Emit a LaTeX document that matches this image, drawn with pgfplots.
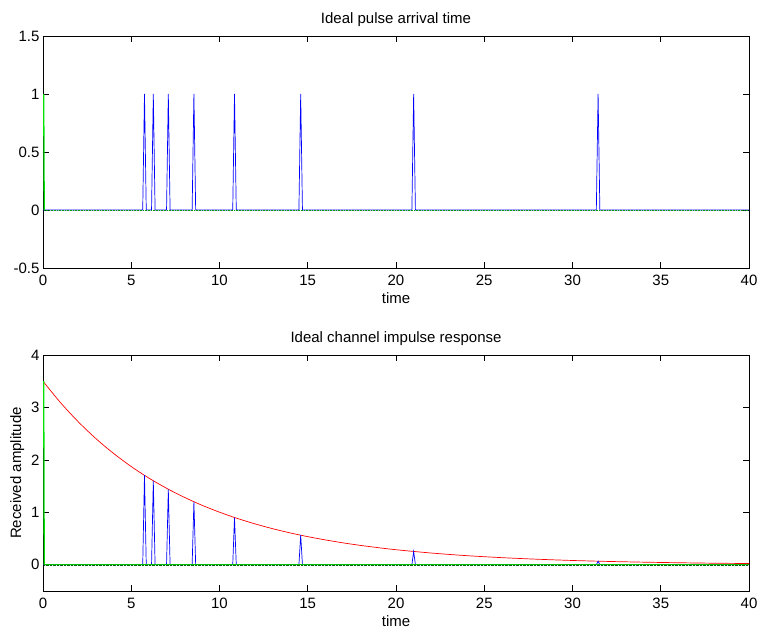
\documentclass[border=0pt]{standalone}
\usepackage{fontspec}
\setmainfont{Liberation Sans}
\usepackage{pgfplots}
\pgfplotsset{compat=1.18}

\pgfplotsset{
  mlab/.style={
    scale only axis,
    width=706bp,
    xmin=0, xmax=40,
    xtick={0,5,...,40},
    tick align=inside,
    major tick length=6bp,
    axis line style={line width=0.9pt},
    tick style={black, line width=0.6pt},
    tick label style={font=\fontsize{15bp}{17bp}\selectfont},
    xticklabel style={yshift=-4bp},
    label style={font=\fontsize{15bp}{17bp}\selectfont},
    title style={font=\fontsize{15bp}{17bp}\selectfont},
    /pgf/number format/assume math mode=true,
    xlabel=time,
  }
}

\begin{document}
\begin{tikzpicture}
  \path[use as bounding box] (-43bp,36bp) rectangle (714bp,-594bp);

  \begin{axis}[mlab,
    name=top, at={(0,0)}, anchor=north west,
    height=232bp,
    ymin=-0.5, ymax=1.5,
    ytick={-0.5,0,0.5,1,1.5},
    title={Ideal pulse arrival time}]
    % pulse train
    \addplot[blue, line width=0.7pt] coordinates {
      (0,0) (5.65,0) (5.75,1) (5.85,0) (6.15,0) (6.25,1) (6.35,0)
      (7.0,0) (7.1,1) (7.2,0) (8.45,0) (8.55,1) (8.65,0)
      (10.75,0) (10.85,1) (10.95,0) (14.5,0) (14.6,1) (14.7,0)
      (20.9,0) (21.0,1) (21.1,0) (31.35,0) (31.45,1) (31.55,0) (40,0)
    };
    \addplot[green!90!black, line width=1.3pt] coordinates {(0.04,1) (0.07,0)};
    \addplot[green!60!black, densely dotted, line width=0.6pt] coordinates {(0.07,0) (40,0)};
  \end{axis}

  \begin{axis}[mlab,
    at={(0,-319bp)}, anchor=north west,
    height=236bp,
    ymin=-0.5, ymax=4,
    ytick={0,1,2,3,4},
    ylabel={Received amplitude},
    title={Ideal channel impulse response}]
    % decay envelope
    \addplot[red, line width=0.7pt, smooth] coordinates {
      (0,3.5) (1,3.089) (2,2.726) (3,2.405) (4,2.123) (5,1.873)
      (6,1.653) (7,1.459) (8,1.288) (9,1.136) (10,1.003) (11,0.885)
      (12,0.781) (13,0.689) (14,0.608) (15,0.537) (16,0.474) (17,0.418)
      (18,0.369) (19,0.326) (20,0.287) (22,0.224) (24,0.174) (26,0.136)
      (28,0.106) (30,0.082) (32,0.064) (34,0.050) (36,0.039) (38,0.030)
      (40,0.024)
    };
    % received pulses
    \addplot[blue, line width=0.7pt] coordinates {
      (0,0) (5.65,0) (5.75,1.71) (5.85,0) (6.15,0) (6.25,1.60) (6.35,0)
      (7.0,0) (7.1,1.44) (7.2,0) (8.45,0) (8.55,1.20) (8.65,0)
      (10.75,0) (10.85,0.90) (10.95,0) (14.5,0) (14.6,0.565) (14.7,0)
      (20.9,0) (21.0,0.253) (21.1,0) (31.35,0) (31.45,0.069) (31.55,0) (40,0)
    };
    \addplot[green!90!black, line width=1.3pt] coordinates {(0.04,3.5) (0.07,0)};
    \addplot[green!75!black, line width=1pt] coordinates {(0.07,0) (40,0)};
    \addplot[green!40!black, densely dotted, line width=0.4pt] coordinates {(0.07,0) (40,0)};
  \end{axis}
\end{tikzpicture}
\end{document}
